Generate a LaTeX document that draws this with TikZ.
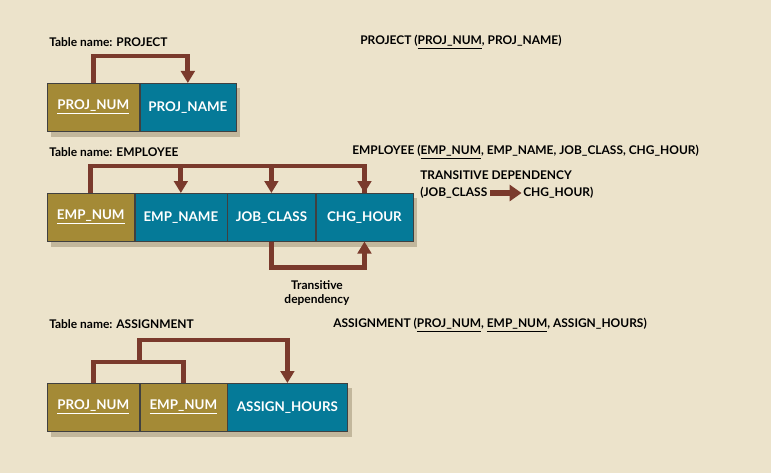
\documentclass[tikz,border=0pt]{standalone}
\usepackage{fontspec}
\setmainfont{Lato}
\usetikzlibrary{positioning,arrows.meta,backgrounds}
\definecolor{paper}{HTML}{ECE3CB}
\definecolor{keygold}{HTML}{A48A36}
\definecolor{attrteal}{HTML}{057A98}
\definecolor{deparrow}{HTML}{7A3A2C}
\definecolor{shadowtan}{HTML}{C2B79C}
\tikzset{
  cell/.style={draw=black!75,line width=0.4pt,minimum height=1.2cm,inner sep=0pt,
    text=white,font=\fontsize{9.5}{11}\selectfont\bfseries,
    path picture={\draw[white,opacity=0.3,line width=1.6pt]
      (path picture bounding box.north west) -- (path picture bounding box.north east);}},
  keycell/.style={cell,fill=keygold},
  attrcell/.style={cell,fill=attrteal},
  label/.style={inner sep=0pt,anchor=west,font=\fontsize{8.5}{10.5}\selectfont\bfseries},
  link/.style={draw=deparrow,line width=3.5pt,line join=miter},
  dep/.style={link,-{Triangle[length=0.3cm,width=0.34cm]}}
}
\begin{document}
\begin{tikzpicture}
  \useasboundingbox (0,0) rectangle (19.275,11.825);

  % PROJECT
  \node[label] (projtitle) at (1.225,10.775) {Table name: PROJECT};
  \node[label] (projrel) at (9.0,10.775) {PROJECT (\underline{PROJ\_NUM}, PROJ\_NAME)};
  \node[keycell,minimum width=2.3cm,anchor=north west] (pnum) at (1.175,9.75) {\underline{PROJ\_NUM}};
  \node[attrcell,minimum width=2.4cm,right=0pt of pnum] (pname) {PROJ\_NAME};
  \draw[dep] (pnum.north) -- ++(0,0.675) -| (pname.north);

  % EMPLOYEE
  \node[label] (emptitle) at (1.225,8.025) {Table name: EMPLOYEE};
  \node[label] (emprel) at (8.8,8.025) {EMPLOYEE (\underline{EMP\_NUM}, EMP\_NAME, JOB\_CLASS, CHG\_HOUR)};
  \node[label] (transtitle) at (10.5,7.45) {TRANSITIVE DEPENDENCY};
  \node[label] (tjob) at (10.5,7.0) {(JOB\_CLASS};
  \node[label] (tchg) at (13.075,7.0) {CHG\_HOUR)};
  \draw[deparrow,line width=4.5pt,-{Triangle[length=0.3cm,width=0.4cm]}] ([xshift=2pt]tjob.east) -- ([xshift=-1pt]tchg.west);

  \node[keycell,minimum width=2.175cm,anchor=north west] (enum) at (1.175,7.0) {\underline{EMP\_NUM}};
  \node[attrcell,minimum width=2.3cm,right=0pt of enum] (ename) {EMP\_NAME};
  \node[attrcell,minimum width=2.2cm,right=0pt of ename] (ejob) {JOB\_CLASS};
  \node[attrcell,minimum width=2.425cm,right=0pt of ejob] (echg) {CHG\_HOUR};
  \draw[link] (enum.north) -- ++(0,0.675) coordinate (etop) -| (echg.north);
  \draw[dep] (etop -| ename.north) -- (ename.north);
  \draw[dep] (etop -| ejob.north) -- (ejob.north);
  \draw[dep] (etop -| echg.north) -- (echg.north);
  \draw[dep] (ejob.south) -- ++(0,-0.65) -| (echg.south);
  \node[label,anchor=center,align=center] (translabel) at (7.925,4.5) {Transitive\\dependency};

  % ASSIGNMENT
  \node[label] (asgtitle) at (1.225,3.725) {Table name: ASSIGNMENT};
  \node[label] (asgrel) at (8.325,3.7) {ASSIGNMENT (\underline{PROJ\_NUM}, \underline{EMP\_NUM}, ASSIGN\_HOURS)};
  \node[keycell,minimum width=2.3cm,anchor=north west] (anum) at (1.175,2.25) {\underline{PROJ\_NUM}};
  \node[keycell,minimum width=2.175cm,right=0pt of anum] (aemp) {\underline{EMP\_NUM}};
  \node[attrcell,minimum width=3.0cm,right=0pt of aemp] (ahrs) {ASSIGN\_HOURS};
  \draw[link] (anum.north) -- ++(0,0.525) coordinate (ajoin) -| (aemp.north);
  \draw[dep] (ajoin -| anum.north east) -- ++(0,0.55) -| (ahrs.north);

  % 底色与阴影
  \begin{scope}[on background layer]
    \fill[paper] (0,0) rectangle (19.275,11.825);
    \fill[shadowtan] ([shift={(0.1,-0.13)}]pnum.north west) rectangle ([shift={(0.1,-0.13)}]pname.south east);
    \fill[shadowtan] ([shift={(0.1,-0.13)}]enum.north west) rectangle ([shift={(0.1,-0.13)}]echg.south east);
    \fill[shadowtan] ([shift={(0.1,-0.13)}]anum.north west) rectangle ([shift={(0.1,-0.13)}]ahrs.south east);
  \end{scope}
\end{tikzpicture}
\end{document}
